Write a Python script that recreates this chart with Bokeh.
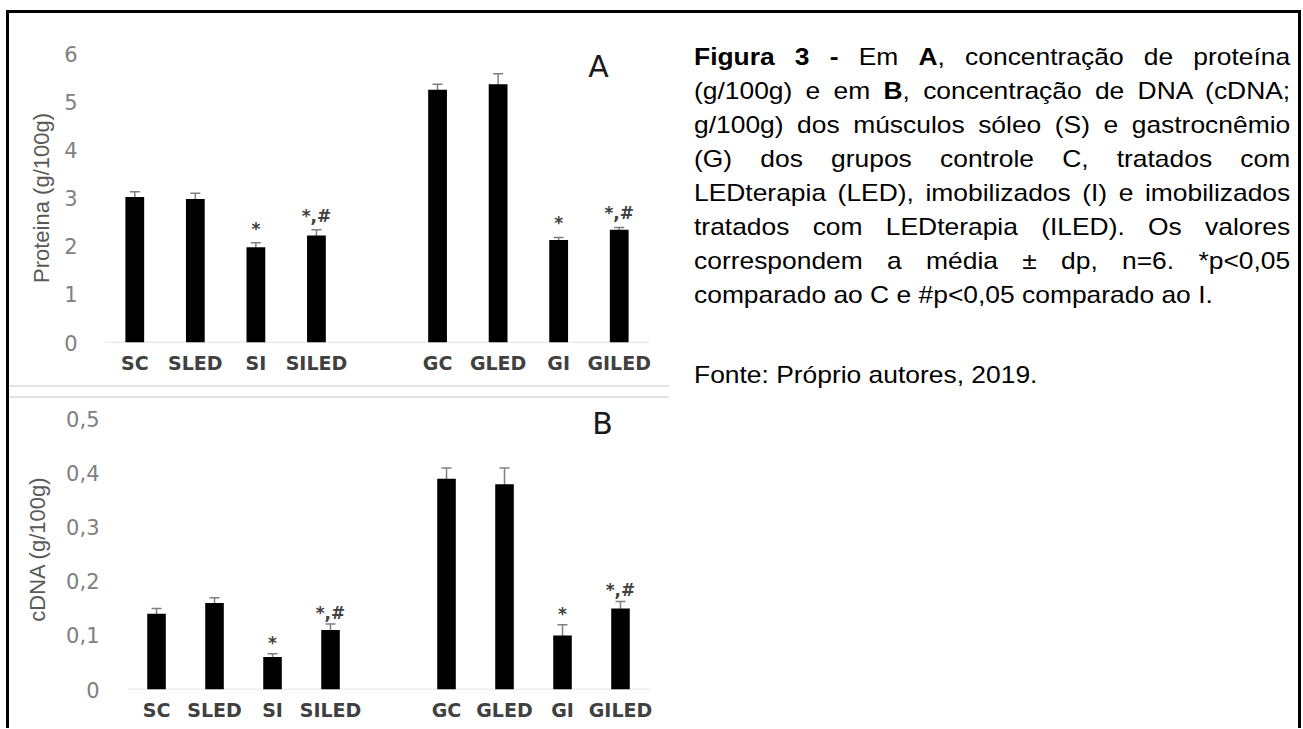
from bokeh.plotting import figure
from bokeh.models import (ColumnDataSource, Whisker, TeeHead, FixedTicker, Range1d,
                          Label, Div, CustomJSTickFormatter)
from bokeh.layouts import row, column
from bokeh.core.properties import value
from bokeh.embed import file_html
from bokeh.resources import INLINE

# ---------------- data ----------------
categories = ["SC", "SLED", "SI", "SILED", "GC", "GLED", "GI", "GILED"]
muscle_group = ["S", "S", "S", "S", "G", "G", "G", "G"]
protein_mean = [3.02, 2.98, 1.98, 2.22, 5.25, 5.36, 2.13, 2.34]
protein_sd = [0.11, 0.12, 0.09, 0.12, 0.11, 0.22, 0.05, 0.05]
dna_mean = [0.14, 0.16, 0.06, 0.11, 0.39, 0.38, 0.10, 0.15]
dna_sd = [0.010, 0.010, 0.006, 0.011, 0.020, 0.030, 0.020, 0.013]
significance = ["", "", "*", "*,#", "", "", "*", "*,#"]
protein_ticks = [0, 1, 2, 3, 4, 5, 6]
dna_ticks = [0, 0.1, 0.2, 0.3, 0.4, 0.5]
protein_label = "Proteina (g/100g)"
dna_label = "cDNA (g/100g)"

caption_lines = [
    "<b>Figura 3 -</b> Em <b>A</b>, concentração de proteína",
    "(g/100g) e em <b>B</b>, concentração de DNA (cDNA;",
    "g/100g) dos músculos sóleo (S) e gastrocnêmio",
    "(G) dos grupos controle C, tratados com",
    "LEDterapia (LED), imobilizados (I) e imobilizados",
    "tratados com LEDterapia (ILED). Os valores",
    "correspondem a média ± dp, n=6. *p&lt;0,05",
]
caption_last = "comparado ao C e #p&lt;0,05 comparado ao I."
source_line = "Fonte: Próprio autores, 2019."

# slot positions: one empty slot between the soleus and gastrocnemius groups
x_pos = [i + 0.5 + (1 if g == "G" else 0) for i, g in enumerate(muscle_group)]
n_slots = len(categories) + 1

TICK_FONT = "DejaVu Sans"
TITLE_FONT = "Liberation Sans"
FIG_W = 660
TOP_H = 13          # white strip + frame line above the charts
FRAME_Y = 10        # y of the outer frame line
FRAME_T = 3         # thickness of the outer frame line
A_H, SEP_H, B_H = 372, 13, 330
TOTAL_H = TOP_H + A_H + SEP_H + B_H


def make_chart(means, sds, ticks, ylabel, panel, panel_xy, height, borders,
               x_pad_left, y_pad_top, bar_w, sig_gap, label_standoff,
               title_standoff):
    upper = [m + s for m, s in zip(means, sds)]
    lower = [m - s for m, s in zip(means, sds)]
    src = ColumnDataSource(dict(x=x_pos, top=means, upper=upper, lower=lower,
                                sig=significance))
    left, right, top, bottom = borders
    p = figure(width=FIG_W, height=height,
               x_range=Range1d(-x_pad_left, n_slots),
               y_range=Range1d(0, ticks[-1] * (1 + y_pad_top)),
               output_backend="svg", toolbar_location=None,
               min_border_left=left, min_border_right=right,
               min_border_top=top, min_border_bottom=bottom)
    p.outline_line_color = None
    p.background_fill_color = "white"
    p.border_fill_color = "white"
    p.xgrid.visible = False
    p.ygrid.visible = False

    # category baseline (spans the category slots only)
    p.segment(x0=[0], x1=[n_slots], y0=[0], y1=[0], line_color="#d9d9d9",
              line_width=1.5)
    p.vbar(x="x", top="top", bottom=0, width=bar_w, fill_color="black",
           line_color=None, source=src)
    head = dict(size=10, line_color="#7f7f7f", line_width=1.5)
    p.add_layout(Whisker(base="x", upper="upper", lower="lower", source=src,
                         line_color="#7f7f7f", line_width=1.5,
                         upper_head=TeeHead(**head), lower_head=TeeHead(**head)))
    p.text(x="x", y="upper", text="sig", source=src, text_align="center",
           text_baseline="alphabetic", y_offset=-sig_gap,
           text_font=value(TICK_FONT), text_font_style="bold",
           text_font_size="17px", text_color="#404040")

    p.add_layout(Label(x=panel_xy[0], y=panel_xy[1], text=panel,
                       text_align="center", text_baseline="middle",
                       text_font=TICK_FONT, text_font_size="30px",
                       text_color="#1a1a1a"))

    xa = p.xaxis[0]
    xa.ticker = FixedTicker(ticks=x_pos)
    xa.major_label_overrides = {x: c for x, c in zip(x_pos, categories)}
    xa.axis_line_color = None
    xa.major_tick_line_color = None
    xa.minor_tick_line_color = None
    xa.major_tick_out = 0
    xa.major_label_standoff = 9
    xa.major_label_text_font = TICK_FONT
    xa.major_label_text_font_style = "bold"
    xa.major_label_text_font_size = "19px"
    xa.major_label_text_color = "#404040"

    ya = p.yaxis[0]
    ya.ticker = FixedTicker(ticks=ticks)
    ya.formatter = CustomJSTickFormatter(code="""
        if (Math.abs(tick - Math.round(tick)) < 1e-9) { return String(Math.round(tick)); }
        return tick.toFixed(1).replace('.', ',');
    """)
    ya.axis_line_color = None
    ya.major_tick_line_color = None
    ya.minor_tick_line_color = None
    ya.major_tick_out = 0
    ya.major_tick_in = 0
    ya.major_label_standoff = label_standoff
    ya.major_label_text_font = TICK_FONT
    ya.major_label_text_font_size = "21px"
    ya.major_label_text_color = "#808080"
    ya.axis_label = ylabel
    ya.axis_label_text_font = TITLE_FONT
    ya.axis_label_text_font_style = "normal"
    ya.axis_label_text_font_size = "22px"
    ya.axis_label_text_color = "#595959"
    ya.axis_label_standoff = title_standoff
    return p


pA = make_chart(protein_mean, protein_sd, protein_ticks, protein_label, "A",
                (8.157, 5.73), A_H, (95, 20, 40, 43), 0.0, 0.0, 0.31, 14,
                27, 7)
pB = make_chart(dna_mean, dna_sd, dna_ticks, dna_label, "B",
                (8.19, 0.492), B_H, (95, 20, 10, 39), 0.397, 0.04, 0.32, 11,
                5, 13)


def rects_div(w, h, rects, inner=""):
    parts = "".join(
        f'<div style="position:absolute;left:{x}px;top:{y}px;width:{rw}px;'
        f'height:{rh}px;background:{c};"></div>' for x, y, rw, rh, c in rects)
    return Div(width=w, height=h, margin=0, text=(
        f'<div style="position:relative;width:{w}px;height:{h}px;">'
        f'{parts}{inner}</div>'))


# outer frame pieces (left edge, top edge above the charts, right edge)
left_div = rects_div(9, TOTAL_H, [(6, FRAME_Y, FRAME_T, TOTAL_H - FRAME_Y, "#000")])
top_div = rects_div(FIG_W, TOP_H, [(0, FRAME_Y, FIG_W, FRAME_T, "#000")])
right_div = rects_div(3, TOTAL_H, [(0, FRAME_Y, FRAME_T, TOTAL_H - FRAME_Y, "#000")])

# light separator between the two chart images
sep = rects_div(FIG_W, SEP_H, [(0, 0, FIG_W, 2, "#e3e3e3"),
                               (0, SEP_H - 2, FIG_W, 2, "#e3e3e3")])

line_style = "text-align:justify;text-align-last:justify;"
body = "".join(f'<div style="{line_style}">{t}</div>' for t in caption_lines)
body += f'<div style="text-align:left;">{caption_last}</div>'
body += f'<div style="text-align:left;margin-top:46px;">{source_line}</div>'
CAP_W = 629
caption_text = (
    '<div style="position:absolute;left:25px;top:40px;width:542px;'
    'transform:scaleX(1.10);transform-origin:0 0;'
    "font-family:'Liberation Sans',Arial,sans-serif;font-size:24px;"
    'line-height:34px;color:#000;">' + body + '</div>')
caption = rects_div(CAP_W, TOTAL_H, [(0, FRAME_Y, CAP_W, FRAME_T, "#000")],
                    inner=caption_text)

layout = row(left_div, column(top_div, pA, sep, pB), caption, right_div)

open("out.html", "w", encoding="utf-8").write(file_html(layout, INLINE))
